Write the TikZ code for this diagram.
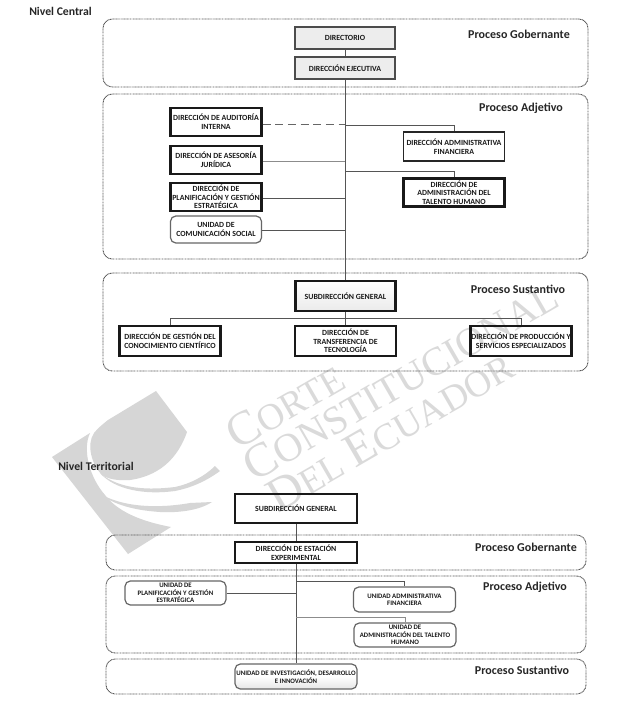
\documentclass[tikz,border=0pt]{standalone}
\usepackage{fontspec}
\setmainfont{Carlito}
\newfontfamily\wmfont{Liberation Serif}
\definecolor{wm}{HTML}{D6D6D6}
\definecolor{wmt}{HTML}{DADADA}
\definecolor{lineg}{HTML}{555555}
\newcommand{\wmtext}[1]{{\fontsize{36}{36}\selectfont #1}}
\newcommand{\wmsmall}[1]{{\fontsize{28}{28}\selectfont #1}}
\newcommand{\wmsmallb}[1]{{\fontsize{30}{30}\selectfont #1}}
\tikzset{
  px/.style={x=0.75pt,y=-0.75pt},
  sz/.style 2 args={minimum width=#1*0.75pt,minimum height=#2*0.75pt},
  grp/.style={draw=black!65,dash pattern=on 0.7pt off 0.45pt,line width=0.7pt,rounded corners=7pt,inner sep=0pt},
  boxtxt/.style={font=\bfseries\fontsize{5.9}{6.5}\selectfont,align=center,text=black!90,inner sep=0pt},
  smalltxt/.style={font=\bfseries\fontsize{5.1}{5.5}\selectfont},
  heavy/.style={boxtxt,draw=black!90,line width=1.6pt},
  medium/.style={boxtxt,draw=black!85,line width=1.2pt},
  soft/.style={boxtxt,draw=black!60,line width=0.9pt,rounded corners=4pt},
  shade/.style={boxtxt,draw=black!70,line width=1.1pt,fill=black!7},
  conn/.style={draw=lineg,line width=0.6pt},
  dashconn/.style={draw=black!60,line width=0.7pt,dash pattern=on 6pt off 3.5pt},
  procl/.style={font=\bfseries\fontsize{9}{10}\selectfont,text=black!85,inner sep=0pt},
  level/.style={font=\bfseries\fontsize{8.8}{10}\selectfont,text=black!85,inner sep=0pt,anchor=west},
}
\begin{document}
\begin{tikzpicture}[px]
\useasboundingbox (0,0) rectangle (624,719);
\fill[white] (0,0) rectangle (624,719);
% logo watermark
\fill[wm] (156,391) -- (187,432) .. controls (180,452) and (165,475) .. (130,480)
  .. controls (118,481) and (108,479) .. (102,475)
  .. controls (92,465) and (86,445) .. (94,433)
  .. controls (98,428) and (103,424) .. (108,420) -- cycle;
\fill[wm] (90,433) -- (52,457) -- (128,554) -- (171,527)
  .. controls (150,523) and (120,515) .. (105,495)
  .. controls (90,478) and (82,450) .. (90,433) -- cycle;
\fill[wm] (100,473) .. controls (120,490) and (150,490) .. (175,487)
  .. controls (190,484) and (205,476) .. (215,466) -- (220,471)
  .. controls (205,482) and (190,488) .. (175,491)
  .. controls (145,495) and (115,490) .. (100,473) -- cycle;
\fill[wm] (96,491) .. controls (115,505) and (150,510) .. (190,503) -- (212,502)
  .. controls (200,510) and (180,513) .. (160,512)
  .. controls (130,510) and (110,503) .. (96,491) -- cycle;
% text watermark
\node[rotate=30,text=wmt,inner sep=0pt,font=\wmfont] (wa) at (285,405) {\wmtext{C}\wmsmall{ORTE}};
\node[rotate=30,text=wmt,inner sep=0pt,font=\wmfont] (wb) at (400,380) {\wmtext{C}\wmsmallb{ONSTITUCIONAL}};
\node[rotate=30,text=wmt,inner sep=0pt,font=\wmfont] (wc) at (390,431) {\wmtext{D}\wmsmall{EL }\wmtext{E}\wmsmall{CUADOR}};
% group frames
\node[grp,sz={485}{68}] (g1) at (345.5,53) {};
\node[grp,sz={485}{165}] (g2) at (345.5,176.5) {};
\node[grp,sz={485}{98}] (g3) at (345.5,322) {};
\node[grp,sz={480}{35}] (t1) at (346,552.5) {};
\node[grp,sz={480}{77}] (t2) at (346,614.5) {};
\node[grp,sz={480}{35}] (t3) at (346,676.5) {};
% labels
\node[level] (nc) at (29,11.5) {Nivel Central};
\node[level] (nt) at (58,466.5) {Nivel Territorial};
\node[procl] (l1) at (519,34) {Proceso Gobernante};
\node[procl] (l2) at (521,108.5) {Proceso Adjetivo};
\node[procl] (l3) at (518,289) {Proceso Sustantivo};
\node[procl] (l4) at (526,547) {Proceso Gobernante};
\node[procl] (l5) at (525,587) {Proceso Adjetivo};
\node[procl] (l6) at (522,670.5) {Proceso Sustantivo};
% central boxes
\node[shade,sz={100}{22}] (dir) at (345,38) {DIRECTORIO};
\node[shade,sz={100}{22}] (eje) at (345,68) {DIRECCIÓN EJECUTIVA};
\node[heavy,sz={91}{28}] (aud) at (216,122) {DIRECCIÓN DE AUDITORÍA\\INTERNA};
\node[heavy,sz={91}{28}] (ase) at (216,160) {DIRECCIÓN DE ASESORÍA\\JURÍDICA};
\node[heavy,sz={91}{28}] (pla) at (216,197) {DIRECCIÓN DE\\PLANIFICACIÓN Y GESTIÓN\\ESTRATÉGICA};
\node[soft,sz={91}{27}] (com) at (216,229.5) {UNIDAD DE\\COMUNICACIÓN SOCIAL};
\node[medium,sz={101}{29}] (adm) at (454,146.5) {DIRECCIÓN ADMINISTRATIVA\\FINANCIERA};
\node[heavy,sz={101}{28}] (tal) at (454,192.5) {DIRECCIÓN DE\\ADMINISTRACIÓN DEL\\TALENTO HUMANO};
\node[heavy,sz={100}{30},top color=white,bottom color=black!8] (sub) at (345.5,296) {SUBDIRECCIÓN GENERAL};
\node[heavy,sz={101}{30}] (ges) at (170,341) {DIRECCIÓN DE GESTIÓN DEL\\CONOCIMIENTO CIENTÍFICO};
\node[heavy,sz={101}{30}] (tra) at (345.5,341) {DIRECCIÓN DE\\TRANSFERENCIA DE\\TECNOLOGÍA};
\node[heavy,sz={101}{30}] (pro) at (521,341) {DIRECCIÓN DE PRODUCCIÓN Y\\SERVICIOS ESPECIALIZADOS};
% territorial boxes
\node[heavy,sz={122}{29}] (tsub) at (296,508.5) {SUBDIRECCIÓN GENERAL};
\node[heavy,sz={122}{21}] (tdir) at (296,552.5) {DIRECCIÓN DE ESTACIÓN\\EXPERIMENTAL};
\node[soft,sz={101}{24},smalltxt] (upl) at (175.5,593) {UNIDAD DE\\PLANIFICACIÓN Y GESTIÓN\\ESTRATÉGICA};
\node[soft,sz={102}{25},smalltxt] (uad) at (404.5,599.5) {UNIDAD ADMINISTRATIVA\\FINANCIERA};
\node[soft,sz={102}{24},smalltxt] (uta) at (405,635) {UNIDAD DE\\ADMINISTRACIÓN DEL TALENTO\\HUMANO};
\node[soft,sz={122}{25},top color=white,bottom color=black!10,middle color=white,smalltxt] (uin) at (296,676.5) {UNIDAD DE INVESTIGACIÓN, DESARROLLO\\E INNOVACIÓN};
% central connectors
\coordinate (j1) at (345,124);
\coordinate (j2) at (345,125.5);
\coordinate (j3) at (345,161);
\coordinate (j4) at (345,171);
\coordinate (j5) at (345,198);
\coordinate (j6) at (345,230);
\coordinate (j7) at (345.5,318);
\draw[conn] (dir) -- (eje);
\draw[conn,line width=0.75pt] (eje.south) -- (eje.south |- sub.north);
\draw[dashconn] (aud.east |- j1) -- (j1);
\draw[conn] (j2) -| (adm.north);
\draw[conn,draw=black!45] (ase.east |- j3) -- (j3);
\draw[conn] (j4) -| (tal.north);
\draw[conn] (pla.east |- j5) -- (j5);
\draw[conn] (com.east |- j6) -- (j6);
\draw[conn] (sub) -- (tra);
\draw[conn] (j7) -| (ges.north);
\draw[conn] (j7) -| (pro.north);
% territorial connectors
\coordinate (k1) at (296,581);
\coordinate (k2) at (296,593);
\coordinate (k3) at (296,617);
\draw[conn] (tsub) -- (tdir);
\draw[conn,line width=0.75pt] (tdir) -- (uin);
\draw[conn] (k1) -| (uad.north);
\draw[conn] (upl.east |- k2) -- (k2);
\draw[conn,draw=black!45] (k3) -| (uta.north);
\end{tikzpicture}
\end{document}
